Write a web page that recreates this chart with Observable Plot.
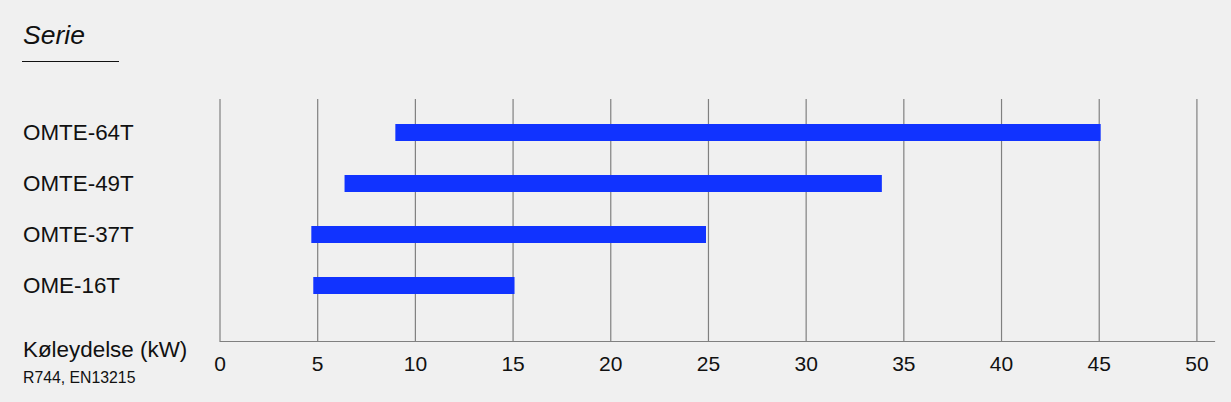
<!DOCTYPE html>
<html>
<head>
<meta charset="utf-8">
<script src="https://cdn.jsdelivr.net/npm/d3@7"></script>
<script src="https://cdn.jsdelivr.net/npm/@observablehq/plot@0.6"></script>
<style>
  body { margin: 0; background: #f0f0f0; font-family: "Liberation Sans", Arial, sans-serif; }
  #page { position: relative; width: 1231px; height: 402px; overflow: hidden; }
  #title { position: absolute; left: 22px; top: 0; width: 97px; height: 62px; border-bottom: 1px solid #111; box-sizing: border-box; }
  #title span { position: absolute; left: 1px; top: 20px; font-style: italic; font-size: 26.5px; line-height: 30px; color: #111; }
  #chart { position: absolute; left: 0; top: 80px; }
</style>
</head>
<body>
<div id="page">
  <div id="title"><span>Serie</span></div>
  <div id="chart"></div>
</div>
<script>
// modeller og kapacitetsområde (kW)
const modeller = ["OMTE-64T", "OMTE-49T", "OMTE-37T", "OME-16T"];
const minKw = [9.0, 6.4, 4.7, 4.8];
const maxKw = [45.1, 33.9, 24.9, 15.1];
const xTicks = [0, 5, 10, 15, 20, 25, 30, 35, 40, 45, 50];

const data = modeller.map((m, i) => ({model: m, min: minKw[i], max: maxKw[i]}));

const chart = Plot.plot({
  width: 1231,
  height: 322,
  marginLeft: 219.5,
  marginRight: 17,
  marginTop: 19,
  marginBottom: 61,
  style: {background: "transparent", fontFamily: "'Liberation Sans', Arial, sans-serif", color: "#111"},
  x: {domain: [0, 50.9], ticks: xTicks, label: null},
  y: {domain: modeller, range: [26.4, 231.1], paddingInner: 0.67, paddingOuter: 0.335, axis: null},
  marks: [
    Plot.gridX(xTicks, {stroke: "#808080", strokeOpacity: 1, strokeWidth: 1.2}),
    Plot.frame({anchor: "bottom", stroke: "#808080", strokeWidth: 1.2}),
    Plot.axisX(xTicks, {tickSize: 0, tickPadding: 15, fontSize: 21, fill: "#111"}),
    Plot.barX(data, {y: "model", x1: "min", x2: "max", fill: "#1133ff"}),
    Plot.text(data, {y: "model", text: "model", frameAnchor: "left", textAnchor: "start", dx: -197, fontSize: 22.4, fill: "#111"}),
    Plot.text(["Køleydelse (kW)"], {frameAnchor: "bottom-left", textAnchor: "start", lineAnchor: "bottom", dx: -197, dy: 15.7, fontSize: 22.4, fill: "#111"}),
    Plot.text(["R744, EN13215"], {frameAnchor: "bottom-left", textAnchor: "start", lineAnchor: "bottom", dx: -197, dy: 41.3, fontSize: 15.8, fill: "#111"})
  ]
});

d3.select("#chart").append(() => chart);
</script>
</body>
</html>
